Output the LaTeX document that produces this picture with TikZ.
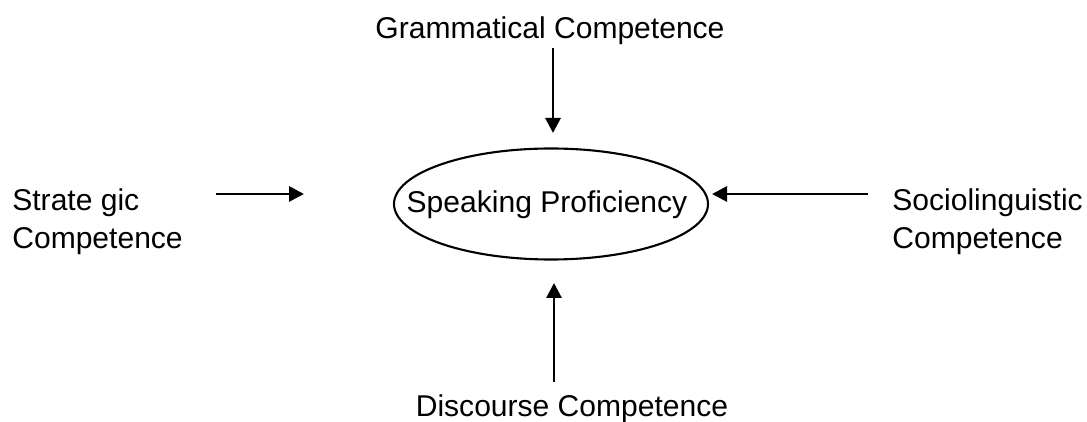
\documentclass[tikz,border=0pt]{standalone}
\usepackage{fontspec}
\setmainfont{Liberation Sans}
\usetikzlibrary{positioning,shapes.geometric,arrows.meta}

\begin{document}
\begin{tikzpicture}[every node/.style={inner sep=0pt,font=\fontsize{17.1}{21.6}\selectfont},
  compbox/.style={align=left},
  profoval/.style={line width=1.2pt},
  arr/.style={line width=1.6pt,-{Triangle[length=0.3cm,width=0.3cm]}}]
\useasboundingbox (0,0) rectangle (21.74,-8.44);

\node (speak) at (10.94,-4.1) {Speaking Proficiency};
\draw[profoval] (11.02,-4.08) ellipse [x radius=3.14, y radius=1.11];
\node[anchor=base] (gram) at (11.0,-0.78) {Grammatical Competence};
\node[compbox,anchor=north west] (strat) at (0.24,-3.76) {Strate gic\\Competence};
\node[compbox,anchor=north west] (socio) at (17.84,-3.76) {Sociolinguistic\\Competence};
\node[anchor=base] (disc) at (11.44,-8.34) {Discourse Competence};

\coordinate (g1) at (11.06,-0.96);
\coordinate (g2) at (11.06,-2.66);
\coordinate (s1) at (4.32,-3.88);
\coordinate (s2) at (6.08,-3.88);
\coordinate (l1) at (17.36,-3.88);
\coordinate (l2) at (14.24,-3.88);
\coordinate (d1) at (11.08,-7.64);
\coordinate (d2) at (11.08,-5.66);

\draw[arr] (g1) -- (g2);
\draw[arr] (s1) -- (s2);
\draw[arr] (l1) -- (l2);
\draw[arr] (d1) -- (d2);
\end{tikzpicture}
\end{document}
